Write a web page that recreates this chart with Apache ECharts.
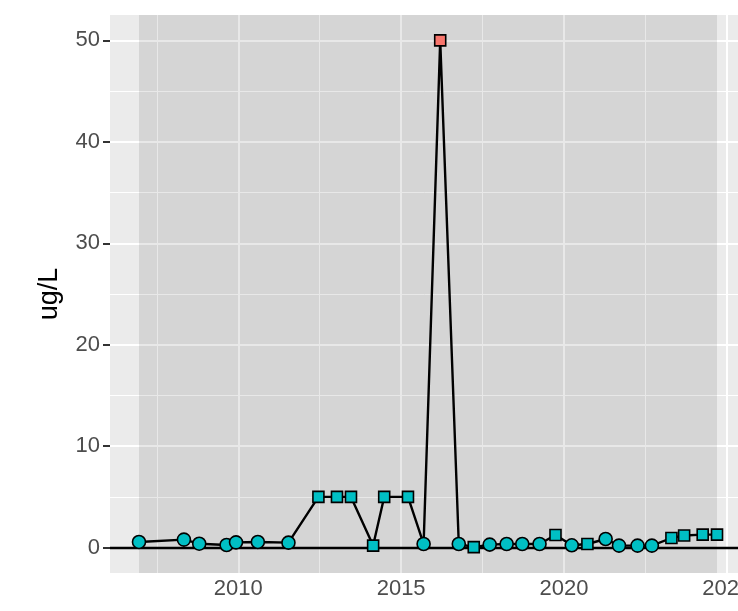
<!DOCTYPE html>
<html>
<head>
<meta charset="utf-8">
<script src="https://cdn.jsdelivr.net/npm/echarts@6/dist/echarts.min.js"></script>
<style>
html,body{margin:0;padding:0;background:#fff;}
#chart{width:738px;height:611px;}
</style>
</head>
<body>
<div id="chart"></div>
<script>
// Sample dates (decimal years) and values (ug/L)
var years = [2006.95, 2008.33, 2008.80, 2009.64, 2009.93, 2010.60, 2011.54, 2012.46, 2013.03, 2013.46,
             2014.14, 2014.48, 2015.21, 2015.69, 2016.20, 2016.77, 2017.23, 2017.72, 2018.24, 2018.72,
             2019.25, 2019.74, 2020.24, 2020.72, 2021.28, 2021.69, 2022.26, 2022.70, 2023.30, 2023.69,
             2024.26, 2024.70];
var values = [0.56, 0.79, 0.39, 0.26, 0.52, 0.56, 0.49, 5, 5, 5,
              0.2, 5, 5, 0.36, 50, 0.36, 0.05, 0.3, 0.36, 0.36,
              0.36, 1.25, 0.23, 0.36, 0.85, 0.2, 0.2, 0.2, 0.95, 1.2,
              1.28, 1.28];
// 'D' = detected (circle), 'ND' = non-detect (square)
var detect = ['D','D','D','D','D','D','D','ND','ND','ND',
              'ND','ND','ND','D','ND','D','ND','D','D','D',
              'D','ND','D','ND','D','D','D','D','ND','ND',
              'ND','ND'];
// flagged outlier
var flagged = [0,0,0,0,0,0,0,0,0,0, 0,0,0,0,1,0,0,0,0,0, 0,0,0,0,0,0,0,0,0,0, 0,0];

var xTicks = [2010, 2015, 2020, 2025];
var xMinor = [2007.5, 2012.5, 2017.5, 2022.5];
var yTicks = [0, 10, 20, 30, 40, 50];
var yMinor = [5, 15, 25, 35, 45];

var TEAL = '#00BFC4', RED = '#F8766D';

var pts = years.map(function (x, i) {
  var nd = detect[i] === 'ND';
  return {
    value: [x, values[i]],
    symbol: nd ? 'rect' : 'circle',
    symbolSize: nd ? 11 : 13,
    itemStyle: { color: flagged[i] ? RED : TEAL, borderColor: '#000', borderWidth: 1.6 }
  };
});

var gridLines = [];
xTicks.forEach(function (v) { gridLines.push({ xAxis: v, lineStyle: { width: 2 } }); });
xMinor.forEach(function (v) { gridLines.push({ xAxis: v, lineStyle: { width: 1 } }); });
yTicks.forEach(function (v) { gridLines.push({ yAxis: v, lineStyle: { width: 2 } }); });
yMinor.forEach(function (v) { gridLines.push({ yAxis: v, lineStyle: { width: 1 } }); });

var plain = function (v) { return String(v); };

var chart = echarts.init(document.getElementById('chart'), null, { renderer: 'canvas' });
chart.setOption({
  animation: false,
  grid: {
    left: 110, top: 15, width: 636, height: 558,
    outerBoundsMode: 'none', containLabel: false,
    show: true, backgroundColor: '#EBEBEB', borderWidth: 0
  },
  xAxis: {
    type: 'value', min: 2006.06, max: 2025.59,
    axisLine: { show: false },
    splitLine: { show: false },
    axisTick: { show: true, customValues: xTicks, length: 7, lineStyle: { color: '#333', width: 2 } },
    axisLabel: { customValues: xTicks, formatter: plain, color: '#4D4D4D', fontSize: 22, fontFamily: 'Liberation Sans', margin: 5,
                 showMinLabel: true, showMaxLabel: true, hideOverlap: false }
  },
  yAxis: {
    type: 'value', min: -2.5, max: 52.5,
    name: 'ug/L', nameLocation: 'middle', nameGap: 47,
    nameTextStyle: { color: '#000', fontSize: 27, fontFamily: 'Liberation Sans' },
    axisLine: { show: false },
    splitLine: { show: false },
    axisTick: { show: true, customValues: yTicks, length: 7, lineStyle: { color: '#333', width: 2 } },
    axisLabel: { customValues: yTicks, formatter: plain, color: '#4D4D4D', fontSize: 22, fontFamily: 'Liberation Sans', margin: 10,
                 showMinLabel: true, showMaxLabel: true }
  },
  series: [
    {
      name: 'grid', type: 'line', data: [[2010, 0]], symbolSize: 0, showSymbol: false,
      lineStyle: { width: 0 }, silent: true, z: 1,
      markLine: {
        z: 1, silent: true, symbol: ['none', 'none'], label: { show: false },
        lineStyle: { color: '#FFFFFF', type: 'solid' },
        emphasis: { disabled: true },
        data: gridLines
      }
    },
    {
      name: 'range', type: 'line', data: [[2010, 0]], symbolSize: 0, showSymbol: false,
      lineStyle: { width: 0 }, silent: true, z: 2,
      markArea: {
        z: 2, silent: true,
        itemStyle: { color: 'rgba(0,0,0,0.09)' },
        data: [[{ xAxis: years[0] }, { xAxis: years[years.length - 1] }]]
      },
      markLine: {
        z: 3, silent: true, symbol: ['none', 'none'], label: { show: false },
        lineStyle: { color: '#000', type: 'solid', width: 2.4 },
        emphasis: { disabled: true },
        data: [{ yAxis: 0 }]
      }
    },
    {
      name: 'ug/L', type: 'line', data: pts, z: 5,
      showAllSymbol: true,
      lineStyle: { color: '#000', width: 2.4 },
      itemStyle: { color: TEAL, borderColor: '#000' }
    }
  ]
});
</script>
</body>
</html>
